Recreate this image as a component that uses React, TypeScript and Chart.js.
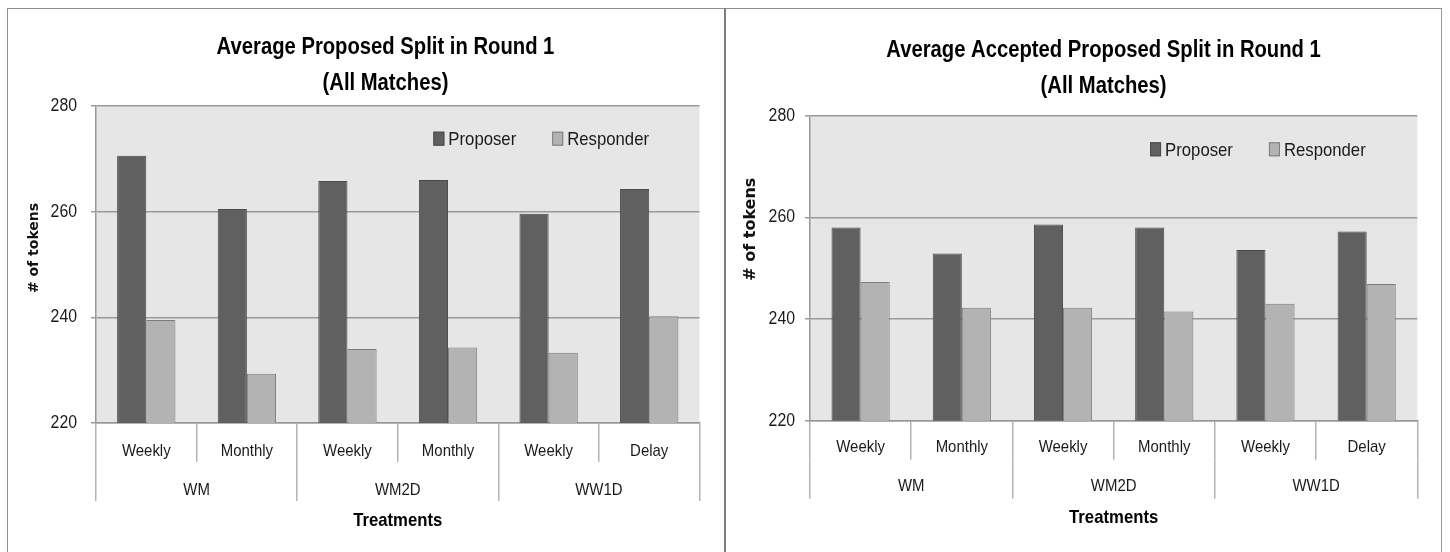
import React, { useEffect, useRef } from 'react';
import { Chart, registerables } from 'chart.js';

Chart.register(...registerables);

// ---------- data ----------
const subCategories = ['Weekly', 'Monthly', 'Weekly', 'Monthly', 'Weekly', 'Delay'];
const groupLabels = ['WM', 'WM2D', 'WW1D'];
const seriesNames = ['Proposer', 'Responder'];

const proposedProposer = [270.6, 260.5, 265.8, 266.0, 259.6, 264.3];
const proposedResponder = [239.5, 229.3, 234.0, 234.3, 233.3, 240.2];

const acceptedProposer = [258.0, 252.9, 258.6, 258.0, 253.6, 257.2];
const acceptedResponder = [247.3, 242.2, 242.2, 241.5, 243.0, 246.9];

const yMin = 220;
const yMax = 280;
const yStep = 20;

const leftTitle = ['Average Proposed Split in Round 1', '(All Matches)'];
const rightTitle = ['Average Accepted Proposed Split in Round 1', '(All Matches)'];
const yAxisTitle = '# of tokens';
const xAxisTitle = 'Treatments';

// ---------- styles ----------
const FONT = '"Liberation Sans", Arial, sans-serif';
const CONDENSE = 0.88; // horizontal text condensing (Calibri-like narrow text)
const PROPOSER_FILL = '#606060';
const PROPOSER_BORDER = '#4a4a4a';
const RESPONDER_FILL = '#b3b3b3';
const RESPONDER_BORDER = '#7c7c7c';
const TEXT = '#1a1a1a';

function condenseText(canvas: HTMLCanvasElement, k: number) {
  const ctx = canvas.getContext('2d') as any;
  if (ctx._plainFillText) return;
  const orig = ctx.fillText;
  ctx._plainFillText = orig.bind(ctx);
  ctx._condense = k;
  ctx.fillText = function (text: string, x: number, y: number, maxWidth?: number) {
    this.save();
    this.translate(x, y);
    this.scale(k, 1);
    if (maxWidth !== undefined && maxWidth !== null) orig.call(this, text, 0, 0, maxWidth / k);
    else orig.call(this, text, 0, 0);
    this.restore();
  };
}

const plotBg = {
  id: 'plotBg',
  beforeDraw(chart: any, _args: any, opts: any) {
    const { ctx, chartArea: a } = chart;
    ctx.save();
    ctx.fillStyle = opts.color || '#e6e6e6';
    ctx.fillRect(a.left, a.top, a.right - a.left, a.bottom - a.top);
    ctx.restore();
  },
};

const titleShift = {
  id: 'titleShift',
  afterLayout(chart: any, _args: any, opts: any) {
    const t = chart.titleBlock;
    if (!t) return;
    const half = (t.right - t.left) / 2;
    t.left = opts.center - half;
    t.right = opts.center + half;
  },
};

const insideLegend = {
  id: 'insideLegend',
  afterDatasetsDraw(chart: any, _args: any, opts: any) {
    const { ctx, chartArea: a } = chart;
    const k = ctx._condense || 1;
    const ds = chart.data.datasets;
    ctx.save();
    ctx.font = `${opts.fontSize}px ${FONT}`;
    const boxW = 11, boxH = 14, gapText = 4, gapItem = 36;
    const widths = ds.map((d: any) => boxW + gapText + ctx.measureText(d.label).width * k);
    const total = widths.reduce((s: number, w: number) => s + w, 0) + gapItem * (ds.length - 1);
    let x = a.right - opts.rightInset - total;
    const cy = a.top + opts.topOffset;
    ds.forEach((d: any, i: number) => {
      ctx.fillStyle = d.backgroundColor;
      ctx.fillRect(x, cy - boxH / 2, boxW, boxH);
      ctx.strokeStyle = d.borderColor;
      ctx.lineWidth = 1;
      ctx.strokeRect(x + 0.5, cy - boxH / 2 + 0.5, boxW - 1, boxH - 1);
      ctx.fillStyle = TEXT;
      ctx.textAlign = 'left';
      ctx.textBaseline = 'middle';
      ctx.fillText(d.label, x + boxW + gapText, cy + 1);
      x += widths[i] + gapItem;
    });
    ctx.restore();
  },
};

const yTitlePlugin = {
  id: 'yTitle',
  afterDraw(chart: any, _args: any, opts: any) {
    const { ctx, chartArea: a } = chart;
    ctx.save();
    ctx.translate(opts.x, (a.top + a.bottom) / 2 + opts.dy);
    ctx.rotate(-Math.PI / 2);
    ctx.font = `bold ${opts.fontSize}px "DejaVu Sans", sans-serif`;
    ctx.fillStyle = '#111';
    ctx.textAlign = 'center';
    ctx.textBaseline = 'middle';
    (ctx._plainFillText || ctx.fillText.bind(ctx))(opts.text, 0, 0);
    ctx.restore();
  },
};

type Params = {
  title: string[];
  proposer: number[];
  responder: number[];
  padding: { left: number; right: number; top: number; bottom: number };
  titlePad: { top: number; bottom: number };
  titleCenter: number;
  yWidth: number;
  yPad: number;
  xPad: number;
  x2Pad: number;
  xTitlePad: number;
  catPct: number;
  legendRight: number;
  legendTop: number;
  yTitleX: number;
  yTitleDy: number;
  yTitleFont: number;
};

function makeConfig(p: Params): any {
  return {
    type: 'bar',
    data: {
      labels: subCategories,
      datasets: [
        {
          label: seriesNames[0],
          data: p.proposer,
          backgroundColor: PROPOSER_FILL,
          borderColor: PROPOSER_BORDER,
          borderWidth: 1,
          xAxisID: 'x',
          yAxisID: 'y',
          categoryPercentage: p.catPct,
          barPercentage: 1.0,
        },
        {
          label: seriesNames[1],
          data: p.responder,
          backgroundColor: RESPONDER_FILL,
          borderColor: RESPONDER_BORDER,
          borderWidth: 1,
          xAxisID: 'x',
          yAxisID: 'y',
          categoryPercentage: p.catPct,
          barPercentage: 1.0,
        },
      ],
    },
    plugins: [plotBg, titleShift, insideLegend, yTitlePlugin],
    options: {
      responsive: false,
      maintainAspectRatio: false,
      animation: false,
      devicePixelRatio: 1,
      layout: { padding: p.padding },
      plugins: {
        legend: { display: false },
        tooltip: { enabled: false },
        title: {
          display: true,
          text: p.title,
          color: '#000',
          font: { family: FONT, size: 23, weight: 'bold', lineHeight: 1.565 },
          padding: p.titlePad,
        },
        titleShift: { center: p.titleCenter },
        plotBg: { color: '#e6e6e6' },
        insideLegend: { rightInset: p.legendRight, topOffset: p.legendTop, fontSize: 19 },
        yTitle: { text: yAxisTitle, x: p.yTitleX, dy: p.yTitleDy, fontSize: p.yTitleFont },
      },
      scales: {
        y: {
          min: yMin,
          max: yMax,
          ticks: {
            stepSize: yStep,
            padding: p.yPad,
            color: TEXT,
            font: { family: FONT, size: 18 },
          },
          grid: { color: '#999999', lineWidth: 1.5, tickLength: 5, drawTicks: true },
          border: { display: true, color: '#999999', width: 1.5 },
          afterFit: (s: any) => {
            s.width = p.yWidth;
          },
        },
        x: {
          type: 'category',
          position: 'bottom',
          offset: true,
          weight: 0,
          grid: {
            offset: true,
            drawOnChartArea: false,
            drawTicks: true,
            tickLength: 39,
            color: '#b4b4b4',
            lineWidth: 1.5,
          },
          border: { display: true, color: '#999999', width: 1.5 },
          ticks: {
            padding: p.xPad,
            color: TEXT,
            autoSkip: false,
            maxRotation: 0,
            font: { family: FONT, size: 17 },
          },
          afterFit: (s: any) => {
            s.height = 39;
          },
        },
        x2: {
          type: 'category',
          labels: groupLabels,
          position: 'bottom',
          offset: true,
          weight: 1,
          grid: {
            offset: true,
            drawOnChartArea: false,
            drawTicks: true,
            tickLength: 39,
            color: '#b4b4b4',
            lineWidth: 1.5,
          },
          border: { display: false },
          ticks: {
            padding: p.x2Pad,
            color: TEXT,
            autoSkip: false,
            maxRotation: 0,
            font: { family: FONT, size: 17 },
          },
          title: {
            display: true,
            text: xAxisTitle,
            color: '#000',
            font: { family: FONT, size: 19, weight: 'bold' },
            padding: { top: 0, bottom: p.xTitlePad },
          },
          afterFit: (s: any) => {
            s.height = 80;
          },
        },
      },
    },
  };
}

function ChartCanvas({ params, left, top, width, height }: { params: Params; left: number; top: number; width: number; height: number }) {
  const ref = useRef<HTMLCanvasElement>(null);
  useEffect(() => {
    const canvas = ref.current as HTMLCanvasElement;
    condenseText(canvas, CONDENSE);
    const chart = new Chart(canvas, makeConfig(params));
    return () => chart.destroy();
  }, []);
  return (
    <canvas
      ref={ref}
      width={width}
      height={height}
      style={{ position: 'absolute', left, top, width, height }}
    />
  );
}

const leftParams: Params = {
  title: leftTitle,
  proposer: proposedProposer,
  responder: proposedResponder,
  padding: { left: 0, right: 24.5, top: 0, bottom: 10 },
  titlePad: { top: 21, bottom: 4 },
  titleCenter: 377.5,
  yWidth: 88,
  yPad: 14,
  xPad: -21,
  x2Pad: -20.5,
  xTitlePad: 9.6,
  catPct: 0.58,
  legendRight: 50.5,
  legendTop: 32.7,
  yTitleX: 26,
  yTitleDy: -16.5,
  yTitleFont: 14,
};

const rightParams: Params = {
  title: rightTitle,
  proposer: acceptedProposer,
  responder: acceptedResponder,
  padding: { left: 0, right: 23.7, top: 0, bottom: 12.3 },
  titlePad: { top: 24, bottom: 10.7 },
  titleCenter: 376.6,
  yWidth: 83,
  yPad: 10,
  xPad: -23,
  x2Pad: -22.5,
  xTitlePad: 10.1,
  catPct: 0.575,
  legendRight: 51.6,
  legendTop: 33.6,
  yTitleX: 24,
  yTitleDy: -39,
  yTitleFont: 16,
};

export default function App() {
  return (
    <div style={{ position: 'absolute', left: 0, top: 0, width: 1450, height: 552, overflow: 'hidden', background: '#fff' }}>
      <div style={{ position: 'absolute', left: 7, top: 8, width: 717, height: 560, borderLeft: '1px solid #8f8f8f', borderTop: '1px solid #8f8f8f' }} />
      <div style={{ position: 'absolute', left: 724, top: 8, width: 2, height: 560, background: '#7d7d7d' }} />
      <div style={{ position: 'absolute', left: 726, top: 8, width: 715, height: 560, borderRight: '1px solid #9a9a9a', borderTop: '1px solid #8f8f8f' }} />
      <ChartCanvas params={leftParams} left={8} top={9} width={716} height={543} />
      <ChartCanvas params={rightParams} left={727} top={9} width={714} height={543} />
    </div>
  );
}
